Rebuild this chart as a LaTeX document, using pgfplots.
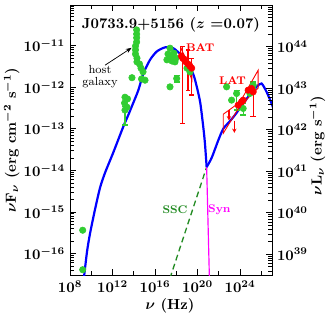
\documentclass[border=0pt]{standalone}
\usepackage{pgfplots}
\pgfplotsset{compat=1.18}
\usetikzlibrary{arrows.meta}
\definecolor{ptgreen}{RGB}{50,205,50}
\definecolor{sscgreen}{RGB}{34,139,34}
\definecolor{synmag}{RGB}{255,0,255}

% minor log ticks (data are log10 values)
\def\yminl{-20}
\foreach \n in {-17,...,-11}{\foreach \k in {2,...,9}{\pgfmathsetmacro\v{\n+log10(\k)}\xdef\yminl{\yminl,\v}}}
\def\yminr{30}
\foreach \n in {38,...,44}{\foreach \k in {2,...,9}{\pgfmathsetmacro\v{\n+log10(\k)}\xdef\yminr{\yminr,\v}}}

\pgfplotsset{
  sedaxis/.style={
    scale only axis, width=138pt, height=185pt,
    xmin=8, xmax=27,
    tick style={black, line width=0.5pt},
  },
  gpt/.style={only marks, mark=*, mark size=2.2pt, color=ptgreen},
  rpt/.style={only marks, mark=*, mark size=2.2pt, color=red},
}

\begin{document}
\boldmath\bfseries
\begin{tikzpicture}
\begin{axis}[
  sedaxis,
  ymin=-16.53, ymax=-10.02,
  xtick={8,12,16,20,24}, minor xtick={10,14,18,22,26},
  ytick={-16,...,-11}, minor ytick/.expanded=\yminl,
  ytick pos=left,
  xticklabel={$10^{\pgfmathprintnumber{\tick}}$},
  yticklabel={$10^{\pgfmathprintnumber{\tick}}$},
  xlabel={$\nu$ (Hz)},
  ylabel={$\nu$F$_\nu$ (erg cm$^{-2}$ s$^{-1}$)},
  xlabel style={at={(axis description cs:0.495,-0.111)}, anchor=center},
  ylabel style={at={(axis description cs:-0.29,0.5)}, anchor=center},
]
\coordinate (bl) at (rel axis cs:0,0);
\coordinate (tr) at (rel axis cs:1,1);

% model components
\addplot[sscgreen, line width=0.9pt, dash pattern=on 4pt off 2.5pt] coordinates {(17.40,-16.60) (20.86,-13.92)};
\addplot[synmag, line width=0.8pt] coordinates {(20.86,-13.92) (21.12,-16.60)};
\addplot[blue, line width=1.5pt, smooth, tension=0.4] coordinates {
  (9.30,-16.60) (9.60,-15.95) (9.88,-15.52) (10.35,-14.94) (10.82,-14.42)
  (11.29,-14.06) (12.07,-13.57) (13.01,-12.95) (13.48,-12.67) (13.80,-12.47)
  (14.43,-12.07) (14.90,-11.67) (15.53,-11.34) (16.16,-11.14) (16.94,-11.04)
  (17.72,-11.06) (18.66,-11.27) (19.20,-11.46) (19.70,-11.76) (20.23,-12.33)
  (20.54,-12.95) (20.70,-13.35) (20.86,-13.92)};
\addplot[blue, line width=1.5pt, smooth, tension=0.4] coordinates {
  (20.86,-13.92) (21.33,-13.70) (21.95,-13.28) (22.42,-13.00) (23.00,-12.83)
  (23.52,-12.67) (24.77,-12.23) (25.56,-11.99) (26.03,-11.91) (26.50,-12.11)
  (26.97,-12.39) (27.20,-12.55)};

% green data (radio, host galaxy, optical/UV, X-ray, gamma)
\addplot[gpt] coordinates {
  (9.19,-15.44) (9.19,-16.39)
  (14.27,-10.62) (14.27,-10.72) (14.27,-10.81) (14.27,-10.91)
  (14.16,-11.01) (14.16,-11.10) (14.16,-11.20) (14.30,-11.30) (14.30,-11.39)
  (14.54,-11.44) (14.68,-11.54) (14.87,-11.63) (13.83,-11.77) (14.73,-11.80)
  (15.06,-11.83)
  (13.17,-12.24) (13.41,-12.28) (13.13,-12.38) (13.36,-12.48)
  (17.41,-11.06) (17.22,-11.20) (17.50,-11.25) (17.78,-11.18) (17.12,-11.34)
  (17.60,-11.37) (17.97,-11.30) (17.88,-11.39) (17.41,-11.99)
  (19.01,-11.54) (19.29,-11.63)
  (22.74,-11.99) (23.21,-12.31) (24.93,-12.15)};
\addplot[gpt, error bars/.cd, y dir=both, y explicit,
  error bar style={line width=0.9pt},
  error mark options={rotate=90, mark size=2pt, line width=0.9pt}] coordinates {
  (13.17,-12.55) += (0,0.08) -= (0,0.36)
  (18.04,-11.79) += (0,0.08) -= (0,0.08)
  (23.68,-12.15) += (0,0.08) -= (0,0.40)
  (24.30,-12.51) += (0,0.12) -= (0,0.16)
  (25.24,-11.95) += (0,0.08) -= (0,0.08)};

% BAT
\addplot[red, line width=0.6pt] coordinates {
  (18.41,-11.03) (18.91,-11.34) (19.48,-11.54) (19.48,-11.83)
  (18.91,-11.44) (18.41,-11.30) (18.41,-11.03)};
\addplot[rpt, error bars/.cd, y dir=both, y explicit,
  error bar style={line width=0.9pt},
  error mark options={rotate=90, mark size=1.5pt, line width=0.9pt}] coordinates {
  (18.49,-11.25) (18.60,-11.30) += (0,0.28) -= (0,1.57)
  (18.72,-11.32) (18.91,-11.39) (19.10,-11.44) += (0,0.34) -= (0,0.63)
  (19.29,-11.49) (19.45,-11.54) += (0,0.24) -= (0,0.65)};

% LAT
\addplot[red, line width=0.6pt] coordinates {
  (22.42,-12.65) (23.99,-12.36) (25.71,-11.59) (25.71,-12.02)
  (23.99,-12.45) (22.42,-13.11) (22.42,-12.65)};
\addplot[red, line width=0.9pt, -{Stealth[length=3pt,width=3pt]}] coordinates {(22.96,-12.55) (22.96,-12.80)};
\addplot[red, line width=0.9pt, -{Stealth[length=3pt,width=3pt]}] coordinates {(23.47,-12.80) (23.47,-13.10)};
\addplot[rpt, error bars/.cd, y dir=both, y explicit,
  error bar style={line width=0.9pt},
  error mark options={rotate=90, mark size=2pt, line width=0.9pt}] coordinates {
  (23.83,-12.43) (24.15,-12.35) (24.30,-12.31) (24.77,-12.07)
  (25.09,-12.03) (25.24,-12.11) += (0,0.16) -= (0,0.60)};

% labels
\node[font=\bfseries\boldmath] at (rel axis cs:0.5,1) [anchor=north, yshift=-5pt] {J0733.9+5156 ($z$ =0.07)};
\node[red, font=\fontsize{7.6}{9}\selectfont\bfseries] at (axis cs:20.25,-11.05) {BAT};
\node[red, font=\fontsize{7.6}{9}\selectfont\bfseries] at (axis cs:23.29,-11.83) {LAT};
\node[sscgreen, font=\fontsize{7.6}{9}\selectfont\bfseries] at (axis cs:17.88,-14.94) {SSC};
\node[synmag, font=\fontsize{7.6}{9}\selectfont\bfseries] at (axis cs:22.06,-14.94) {Syn};
\node[align=center, font=\normalfont\unboldmath\fontsize{8}{8.6}\selectfont, inner sep=0pt] at (axis cs:10.82,-11.74) {host\\galaxy};
\draw[-{Stealth[length=4pt,width=3pt]}, line width=0.5pt] (axis cs:11.29,-11.47) -- (axis cs:13.80,-11.05);
\end{axis}

\begin{axis}[
  sedaxis,
  hide x axis,
  ymin=38.49, ymax=45.0,
  ytick={39,...,44}, minor ytick/.expanded=\yminr,
  ytick pos=right, yticklabel pos=right,
  yticklabel={$10^{\pgfmathprintnumber{\tick}}$},
  ylabel={$\nu$L$_\nu$ (erg s$^{-1}$)},
  ylabel style={at={(axis description cs:1.225,0.48)}, anchor=center},
]
\addplot[draw=none] coordinates {(10,40)};
\end{axis}

\pgfresetboundingbox
\path ([shift={(-47.9pt,-30.8pt)}]bl) rectangle ([shift={(41.8pt,3.4pt)}]tr);
\end{tikzpicture}
\end{document}
